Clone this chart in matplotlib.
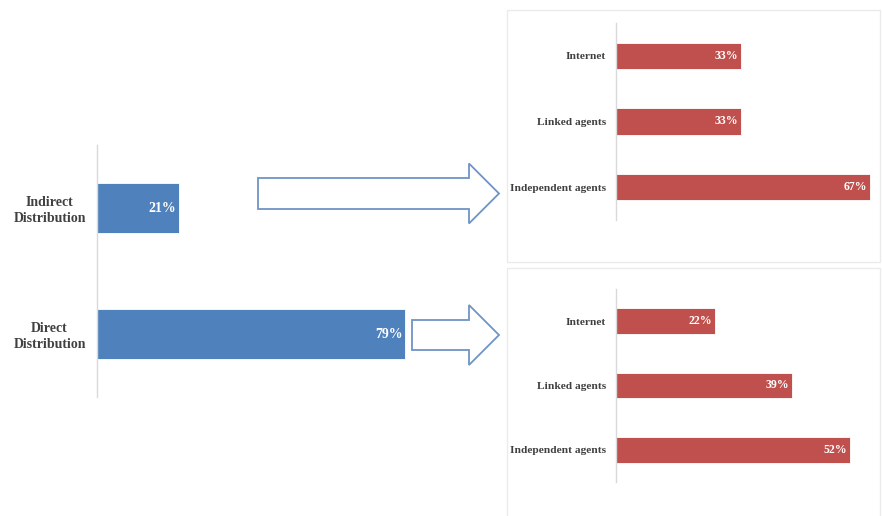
import matplotlib
matplotlib.use("Agg")
import matplotlib.pyplot as plt
from matplotlib.patches import Polygon, Rectangle

# distribution channel shares (%)
main_labels = ["Direct\nDistribution", "Indirect\nDistribution"]
main_values = [79, 21]

sub_labels = ["Independent agents", "Linked agents", "Internet"]
indirect_values = [67, 33, 33]
direct_values = [52, 39, 22]

BLUE = "#4F81BD"
RED = "#C0504D"
TEXT = "#404040"
AXIS = "#D9D9D9"
ARROW = "#6F94C6"
FONT = "Liberation Serif"

W, H = 882, 516
fig = plt.figure(figsize=(W / 100, H / 100), dpi=100)


def px_axes(left, top, right, bottom):
    return fig.add_axes([left / W, 1 - bottom / H, (right - left) / W, (bottom - top) / H])


def bar_panel(ax, labels, values, color, xmax, height, label_size, value_size, pad):
    y = list(range(len(values)))
    ax.barh(y, values, height=height, color=color, edgecolor="white", linewidth=0.6)
    ax.set_xlim(0, xmax)
    ax.set_ylim(-0.5, len(values) - 0.5)
    ax.set_yticks(y)
    ax.set_yticklabels(labels, fontsize=label_size, fontweight="bold",
                       color=TEXT, family=FONT, multialignment="center")
    ax.tick_params(axis="y", length=0, pad=pad)
    ax.set_xticks([])
    for s in ["top", "right", "bottom"]:
        ax.spines[s].set_visible(False)
    ax.spines["left"].set_color(AXIS)
    ax.spines["left"].set_linewidth(1.0)
    ax.patch.set_alpha(0)
    for yi, v in zip(y, values):
        ax.annotate(f"{v}%", (v, yi), xytext=(-2, 0), textcoords="offset points",
                    ha="right", va="center", color="white", fontsize=value_size,
                    fontweight="bold", family=FONT)


def block_arrow(x0, x_head, x_tip, yc, shaft_half, head_half):
    pts = [(x0, yc - shaft_half), (x_head, yc - shaft_half), (x_head, yc - head_half),
           (x_tip, yc), (x_head, yc + head_half), (x_head, yc + shaft_half),
           (x0, yc + shaft_half)]
    pts = [(x / W, 1 - y / H) for x, y in pts]
    fig.add_artist(Polygon(pts, closed=True, facecolor="white", edgecolor=ARROW,
                           linewidth=1.3, transform=fig.transFigure))


# light frames around the two breakdown charts, kept behind the axes
for top, bottom in [(10, 262), (268, 520)]:
    frame = Rectangle((507 / W, 1 - bottom / H), (880 - 507) / W, (bottom - top) / H,
                      facecolor="white", edgecolor="#EBEBEB", linewidth=1.0,
                      transform=fig.transFigure, zorder=-1)
    fig.add_artist(frame)

# left: direct vs indirect
ax_main = px_axes(97, 145, 487, 397)
bar_panel(ax_main, main_labels, main_values, BLUE, 100, 0.4, 10, 10, 8)

# right: breakdown of each channel
ax_ind = px_axes(616, 23, 881, 220)
bar_panel(ax_ind, sub_labels, indirect_values, RED, 70, 0.4, 8.2, 8.5, 7)

ax_dir = px_axes(616, 289, 877, 482)
bar_panel(ax_dir, sub_labels, direct_values, RED, 58, 0.4, 8.2, 8.5, 7)

block_arrow(258, 469, 499, 193.5, 15.5, 30)
block_arrow(412, 469, 499, 335, 15, 30)

fig.savefig("out.png", dpi=100, facecolor="white")
